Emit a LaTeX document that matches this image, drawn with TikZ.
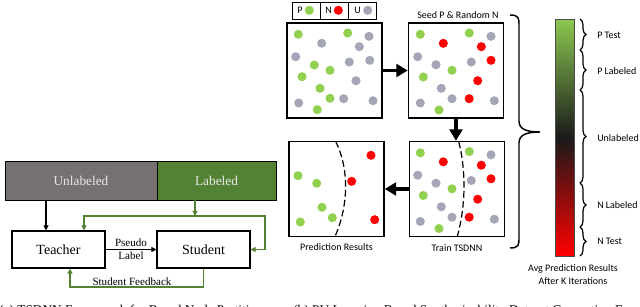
\documentclass[tikz,border=0pt]{standalone}
\usepackage{fontspec}
\setmainfont{Liberation Serif}
\newfontfamily\calib{Carlito}
\usetikzlibrary{arrows.meta,decorations.pathreplacing}
\definecolor{pgreen}{HTML}{92D050}
\definecolor{pred}{HTML}{FF0000}
\definecolor{pgray}{HTML}{A5A5B8}
\definecolor{dgreen}{HTML}{548235}
\definecolor{dgray}{HTML}{767171}
\definecolor{lbltxt}{HTML}{E8E8E8}
\definecolor{bartop}{HTML}{8CC850}
\definecolor{barmid}{HTML}{1A1A1A}
\begin{document}
\begin{tikzpicture}[x=0.75pt,y=-0.75pt,
  panel/.style={draw=black,line width=1.1pt,minimum width=71.25pt,minimum height=71.25pt,inner sep=0pt},
  cell/.style={draw=black,line width=0.6pt,minimum width=21pt,minimum height=12.75pt,inner sep=0pt},
  bigarrow/.style={-{Triangle[length=8.5pt,width=9.5pt]},line width=2.5pt},
  sbox/.style={draw=black,line width=0.9pt,minimum width=69.75pt,minimum height=27.75pt,inner sep=0pt,font=\fontsize{10.5}{12}\selectfont},
  barbox/.style={draw=black,line width=0.7pt,minimum height=29.25pt,inner sep=0pt,text=lbltxt,font=\fontsize{10}{12}\selectfont},
  blk/.style={-{Triangle[length=3.8pt,width=3.8pt]},line width=0.9pt,black},
  garrow/.style={-{Triangle[length=3.8pt,width=3.8pt]},line width=0.9pt,dgreen},
  small/.style={font=\fontsize{8.3}{10}\selectfont,inner sep=1pt},
  cal/.style={font=\calib\fontsize{7.5}{9.75}\selectfont,inner sep=0pt},
  bound/.style={dash pattern=on 5pt off 2.5pt,line width=0.9pt}]
\clip (0,0) rectangle (640,307);
\fill[white] (0,0) rectangle (640,307);

% ---------------- left part ----------------
\node[barbox,fill=dgray,minimum width=114pt] (unl) at (81,180.5) {Unlabeled};
\node[barbox,fill=dgreen,minimum width=89.25pt] (lab) at (216.5,180.5) {Labeled};
\node[sbox] (tch) at (58.5,249.5) {Teacher};
\node[sbox] (stu) at (203.5,249.5) {Student};

\coordinate (j1) at (46,0);
\draw[blk] (unl.south -| j1) -- (tch.north -| j1);

\coordinate (gj) at (195,216);
\coordinate (gL) at (84,216);
\coordinate (gR) at (265,216);
\draw[garrow] (lab.south -| gj) -- (gj);
\draw[garrow] (gR) -- (gL) -- (tch.north -| gL);
\draw[garrow] (gL) -- (gR) |- (stu.east);

\draw[blk] (tch.east) -- (stu.west)
  node[small,midway,above=0.5pt] {Pseudo}
  node[small,midway,below=0.5pt] {Label};

\coordinate (fbR) at (203.5,287);
\coordinate (fbL) at (70,287);
\draw[garrow] (stu.south) -- (fbR) -- (fbL) -- (tch.south -| fbL);
\node[small,anchor=south] (fbt) at (132,287.5) {Student Feedback};

% ---------------- legend ----------------
\node[cell] (c1) at (306,10.5) {};
\node[cell] (c2) at (334,10.5) {};
\node[cell] (c3) at (362.5,10.5) {};
\node[cal] (lp) at (300,10.5) {P};
\node[cal] (ln) at (328.5,10.5) {N};
\node[cal] (lu) at (357.5,10.5) {U};
\fill[pgreen] (309.3,10.3) circle[radius=3.4pt];
\fill[pred] (338.3,10.3) circle[radius=3.4pt];
\fill[pgray] (367.7,10.3) circle[radius=3.4pt];

% ---------------- panels ----------------
\node[panel] (b1) at (334.5,70.5) {};
\node[panel] (b2) at (456,70.5) {};
\node[panel] (b4) at (457,189) {};
\node[panel] (b3) at (336.5,189) {};
\node[cal] (t2) at (458,15) {Seed P \& Random N};
\node[cal] (t4) at (457,248) {Train TSDNN};
\node[cal] (t3) at (336.5,247.5) {Prediction Results};

\draw[bigarrow] (b1.east) -- (b2.west);
\draw[bigarrow] (b2.south) -- (b2.south |- b4.north);
\draw[bigarrow] (b4.west) -- (b3.east);

% box 1 dots
\foreach \x/\y in {298.3/34.3,347.7/33,314.3/65,330/70.3,302/76.7,320/88.3,330/98.3,317.3/109.7}
  \fill[pgreen] (\x,\y) circle[radius=3.4pt];
\foreach \x/\y in {369/36.3,321.7/43.3,359.3/46.7,295.7/56.7,369.7/60.3,349.3/62,356/80.7,298.7/103,343.7/98.7,373/100.7}
  \fill[pgray] (\x,\y) circle[radius=3.4pt];

% box 2 and box 4 dots
\foreach \dy in {0,118.5}{
  \foreach \x/\y in {420.3/34.3,469.3/33,452/70.3,423.3/77,439/110}
    \fill[pgreen] (\x,\y+\dy) circle[radius=3.4pt];
  \foreach \x/\y in {443.3/43.3,481.3/46.7,491/60.3,477.7/80.7,469.2/98.7}
    \fill[pred] (\x,\y+\dy) circle[radius=3.4pt];
  \foreach \x/\y in {491/36.3,417.7/56.7,436/64.7,471.3/62,441.3/88.3,420.3/103,452/98.7,494.3/100.7}
    \fill[pgray] (\x,\y+\dy) circle[radius=3.4pt];
}
\draw[bound] (458.7,141.5) .. controls (466,170) and (466,205) .. (457.3,236.5);

% box 3 dots
\foreach \x/\y in {298/175.7,316.7/183.3,322/207.3,332.3/217.7,300.3/222}
  \fill[pgreen] (\x,\y) circle[radius=3.4pt];
\foreach \x/\y in {371/155.3,351.7/181.3,374.7/219.7}
  \fill[pred] (\x,\y) circle[radius=3.4pt];
\draw[bound] (335.7,141.5) .. controls (349,168) and (349,205) .. (335,236.5);

% big brace
\draw[line width=1.1pt] (510,15) .. controls (519,15) and (519,18) .. (519,26) -- (519,121)
  .. controls (519,129) and (526,132) .. (540,132)
  .. controls (526,132) and (519,135) .. (519,143) -- (519,237)
  .. controls (519,245) and (519,248) .. (510,248);

% colour bar
\shade[top color=bartop,bottom color=barmid] (555,19) rectangle (574,138);
\shade[top color=barmid,bottom color=pred] (555,137.5) rectangle (574,256);
\node[draw=black!70,line width=0.5pt,minimum width=14.25pt,minimum height=177.75pt,inner sep=0pt] (cbar) at (564.5,137.5) {};

\foreach \a/\b in {19/50,50/90,90/183,183/227,227/256}
  \draw[line width=0.9pt,decorate,decoration={brace,amplitude=4.5pt}] (580,\a) -- (580,\b);

\node[cal,anchor=west] (r1) at (597,35) {P Test};
\node[cal,anchor=west] (r2) at (597,71) {P Labeled};
\node[cal,anchor=west] (r3) at (597,138) {Unlabeled};
\node[cal,anchor=west] (r4) at (597,205) {N Labeled};
\node[cal,anchor=west] (r5) at (597,241) {N Test};
\node[cal,align=center] (avg) at (573,274.5) {Avg Prediction Results\\After K Iterations};

% caption (clipped at the lower edge, as in the reference)
\node[anchor=base west,inner sep=0pt,font=\fontsize{10}{12}\selectfont] (capa) at (-1,314) {(a) TSDNN Framework for Based Node Partition};
\node[anchor=base west,inner sep=0pt,font=\fontsize{10}{12}\selectfont] (capb) at (293,314) {(b) PU Learning Based Synthesizability Dataset Generation Framework};
\end{tikzpicture}
\end{document}
